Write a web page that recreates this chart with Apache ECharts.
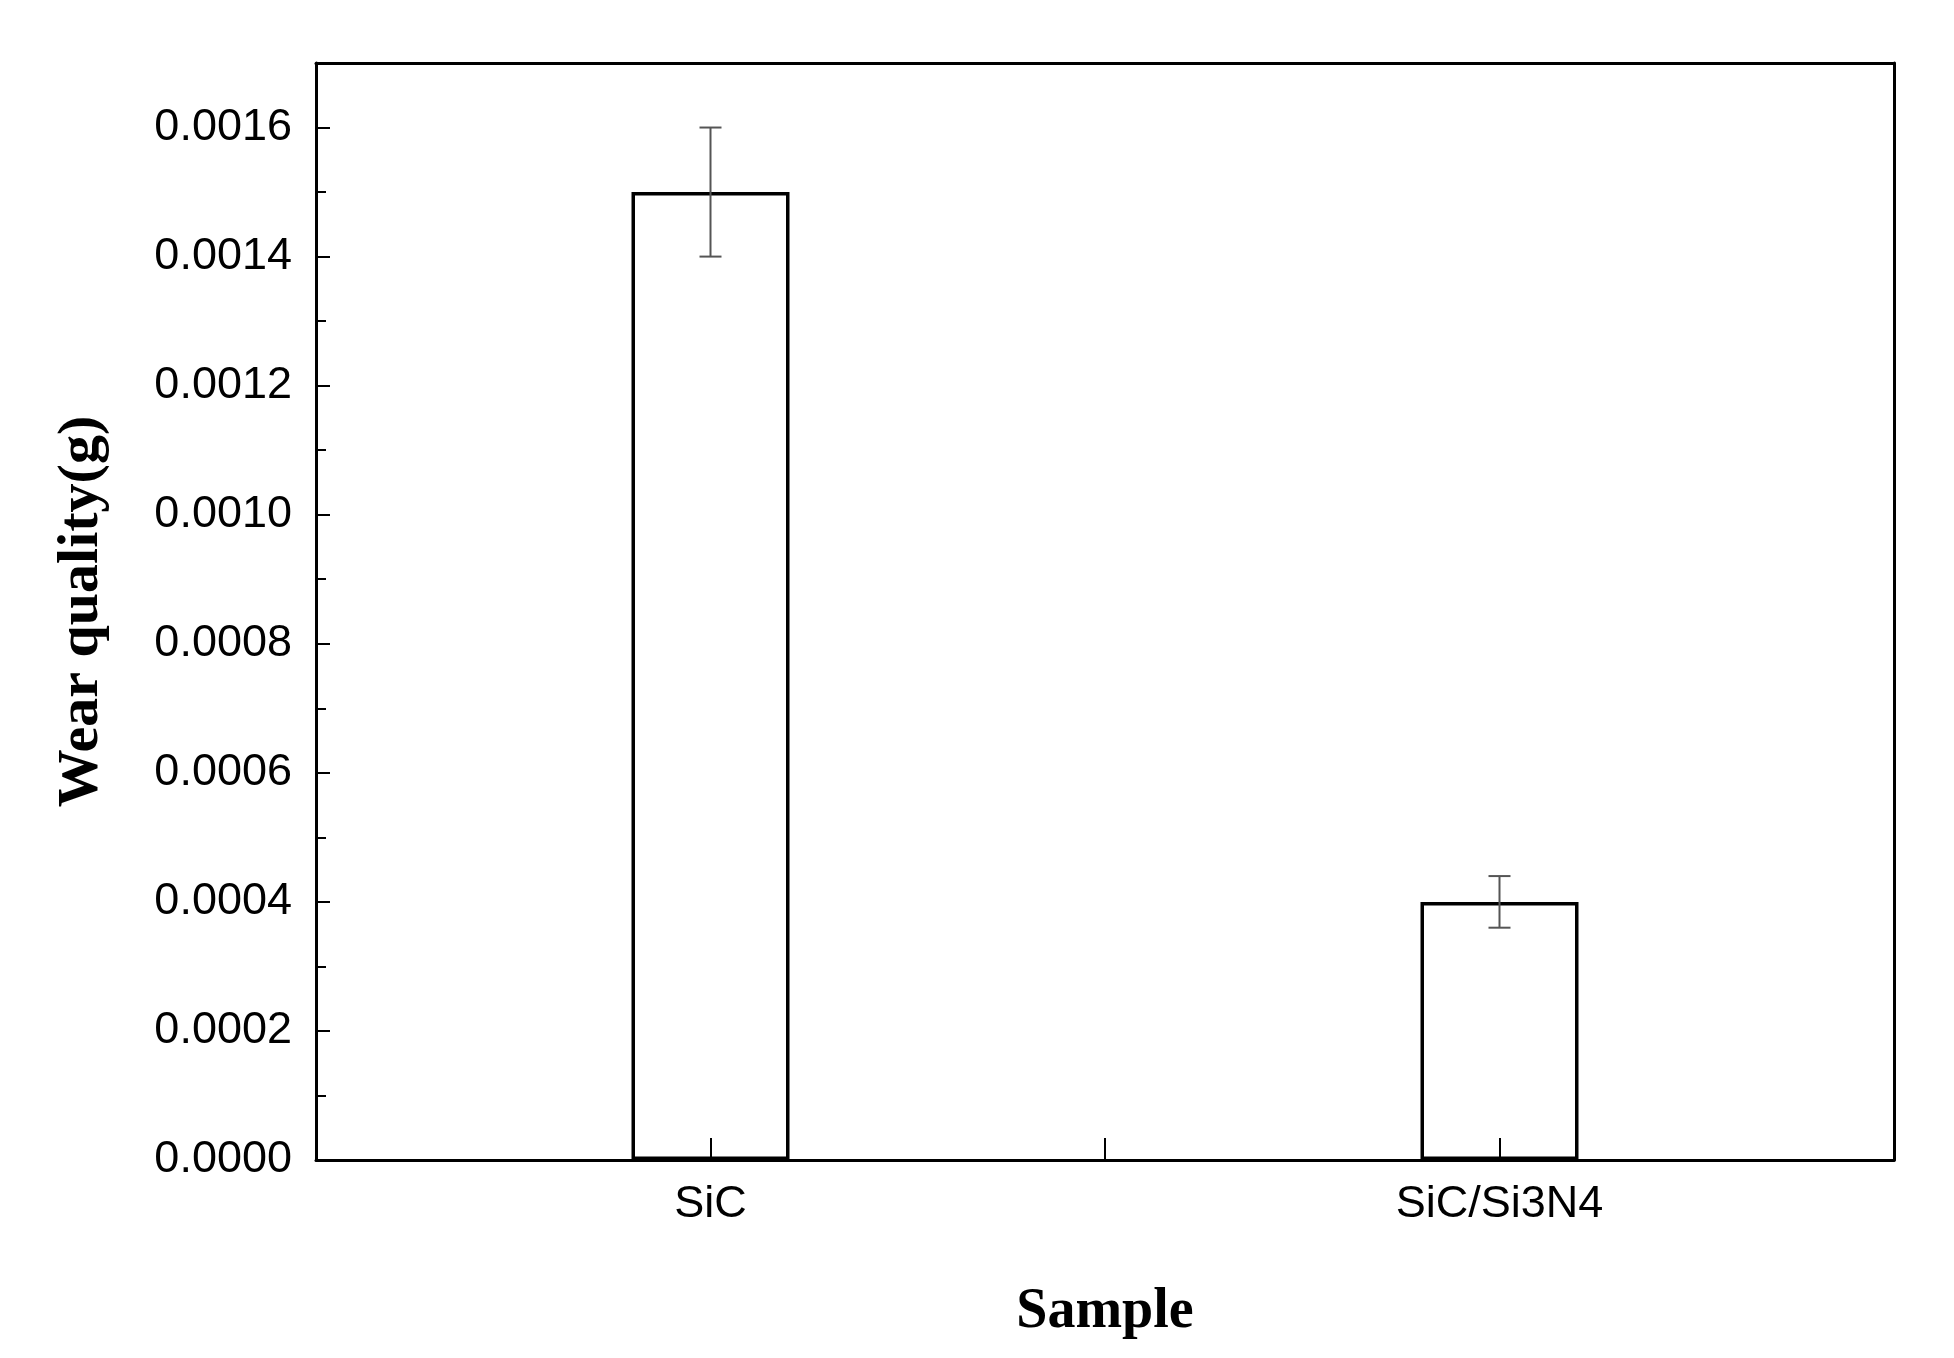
<!DOCTYPE html>
<html>
<head>
<meta charset="utf-8">
<script src="https://cdn.jsdelivr.net/npm/echarts@6/dist/echarts.min.js"></script>
<style>html,body{margin:0;background:#fff}#main{width:1954px;height:1358px}</style>
</head>
<body>
<div id="main"></div>
<script>
var categories = ['SiC', 'SiC/Si3N4']
var wearValues = [0.0015, 0.0004]
var errLow = [0.0014, 0.00036]
var errHigh = [0.0016, 0.00044]

var chart = echarts.init(document.getElementById('main'))
var lbl = { color: '#000', fontFamily: 'Liberation Sans', fontSize: 45 }
var line = { onZero: false, lineStyle: { color: '#000', width: 3 } }

chart.setOption({
  animation: false,
  grid: { left: 316, right: 60, top: 63, bottom: 198 },
  xAxis: [{
    type: 'value', min: 0.5, max: 2.5, interval: 0.5, z: 10,
    name: 'Sample', nameLocation: 'middle', nameGap: 125,
    nameTextStyle: { fontFamily: 'Liberation Serif', fontWeight: 'bold', fontSize: 56, color: '#000' },
    axisLine: line,
    axisTick: { inside: true, length: 22, lineStyle: { color: '#000', width: 2 } },
    splitLine: { show: false },
    axisLabel: Object.assign({ margin: 22, formatter: function (v) {
      return v % 1 === 0 ? categories[v - 1] : ''
    } }, lbl)
  }, {
    type: 'value', position: 'top', min: 0.5, max: 2.5,
    axisLine: line, axisTick: { show: false }, axisLabel: { show: false }, splitLine: { show: false }
  }],
  yAxis: [{
    type: 'value', min: 0, max: 0.0017, interval: 0.0002,
    name: 'Wear quality(g)', nameLocation: 'middle', nameGap: 205,
    nameTextStyle: { fontFamily: 'Liberation Serif', fontWeight: 'bold', fontSize: 58, color: '#000' },
    axisLine: line,
    axisTick: { inside: true, length: 14, lineStyle: { color: '#000', width: 2 } },
    minorTick: { show: true, splitNumber: 2, length: 10, lineStyle: { color: '#000', width: 2 } },
    splitLine: { show: false },
    axisLabel: Object.assign({ margin: 24, showMaxLabel: false, formatter: function (v) { return v.toFixed(4) } }, lbl)
  }, {
    type: 'value', position: 'right', min: 0, max: 0.0017,
    axisLine: line, axisTick: { show: false }, axisLabel: { show: false }, splitLine: { show: false }
  }],
  series: [{
    type: 'bar', barWidth: 158,
    data: wearValues.map(function (v, i) { return [i + 1, v] }),
    itemStyle: { color: '#fff', borderColor: '#000', borderWidth: 3.5 }
  }, {
    type: 'custom', z: 5,
    data: categories.map(function (c, i) { return [i + 1, errLow[i], errHigh[i]] }),
    renderItem: function (params, api) {
      var lo = api.coord([api.value(0), api.value(1)])
      var hi = api.coord([api.value(0), api.value(2)])
      var w = 11
      var st = { stroke: '#555', lineWidth: 2 }
      return { type: 'group', children: [
        { type: 'line', shape: { x1: lo[0], y1: lo[1], x2: hi[0], y2: hi[1] }, style: st },
        { type: 'line', shape: { x1: lo[0] - w, y1: lo[1], x2: lo[0] + w, y2: lo[1] }, style: st },
        { type: 'line', shape: { x1: hi[0] - w, y1: hi[1], x2: hi[0] + w, y2: hi[1] }, style: st }
      ] }
    }
  }]
})
</script>
</body>
</html>
